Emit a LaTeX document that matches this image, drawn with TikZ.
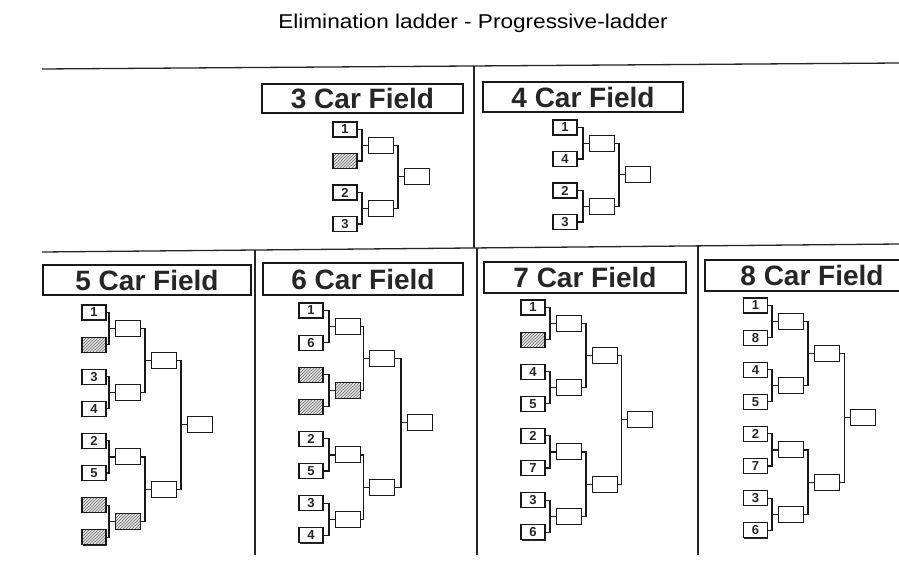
\documentclass[tikz,border=0pt]{standalone}
\usepackage{fontspec}
\setmainfont{Liberation Sans}
\usetikzlibrary{patterns,shadows}
\tikzset{
  seed/.style={draw=black!90, line width=1.1pt, minimum width=24pt, minimum height=15pt,
    inner sep=0pt, fill=white, font=\bfseries\fontsize{13}{13}\selectfont, text=black!85,
    general shadow={fill=black!85, shadow xshift=0.8pt, shadow yshift=-0.8pt}},
  hatch/.style={preaction={fill=black!10}, pattern=north east lines, pattern color=black!60},
  win/.style={draw=black!90, line width=1pt, minimum width=25pt, minimum height=16pt,
    inner sep=0pt, fill=white},
  conn/.style={line width=1.1pt, black!90},
  ptitle/.style={draw=black!90, line width=1.2pt, inner sep=0pt,
    font=\bfseries\fontsize{28}{30}\selectfont, text=black!85},
  rule/.style={line width=1.3pt, black!85}
}
\newcommand\seedn[4]{\node[seed] (#1) at (#2,#3) {#4};}
\newcommand\seedh[3]{\node[seed,hatch] (#1) at (#2,#3) {};}
\newcommand\winb[3]{\node[win] (#1) at (#2,#3) {};}
\newcommand\winh[3]{\node[win,hatch] (#1) at (#2,#3) {};}
\newcommand\joinpair[3]{%
  \draw[conn] (#1.east) -| ([xshift=-5.5pt]#3.west) -- (#3.west);
  \draw[conn] ([xshift=-5.5pt]#3.west) |- (#2.east);}
\begin{document}
\begin{tikzpicture}[x=1pt,y=-1pt]
\useasboundingbox (0,0) rectangle (899,562);
\fill[white] (0,0) rectangle (899,562);

% title
\node[font=\fontsize{20}{24}\selectfont, xscale=1.13, text=black] (title) at (473,23) {Elimination ladder - Progressive-ladder};

% dividers
\coordinate (tl) at (42,69); \coordinate (tr) at (899,63);
\coordinate (ml) at (42,252); \coordinate (mr) at (899,244);
\draw[rule] (tl) -- (tr);
\draw[rule] (ml) -- (mr);
\draw[rule] (474,66) -- (474,248);
\draw[rule] (255,250) -- (255,555);
\draw[rule] (477,248) -- (477,555);
\draw[rule] (698,246) -- (698,555);

% panel titles
\node[ptitle, minimum width=201pt, minimum height=29pt] (t3) at (362.5,98.5) {3 Car Field};
\node[ptitle, minimum width=200pt, minimum height=30pt] (t4) at (583,97) {4 Car Field};
\node[ptitle, minimum width=208pt, minimum height=30pt] (t5) at (147,280) {5 Car Field};
\node[ptitle, minimum width=200pt, minimum height=32pt] (t6) at (363,279) {6 Car Field};
\node[ptitle, minimum width=202pt, minimum height=31pt] (t7) at (585,277.5) {7 Car Field};
\node[ptitle, minimum width=214pt, minimum height=31pt] (t8) at (812,275.5) {8 Car Field};

% ---- 3 car
\seedn{cs1}{345}{129.5}{1}
\seedh{cs2}{345}{161}
\seedn{cs3}{345}{192.5}{2}
\seedn{cs4}{345}{224}{3}
\winb{ca1}{380.5}{145.25}
\winb{ca2}{380.5}{208.25}
\winb{cf}{416.5}{176.75}
\joinpair{cs1}{cs2}{ca1}
\joinpair{cs3}{cs4}{ca2}
\joinpair{ca1}{ca2}{cf}

% ---- 4 car
\seedn{ds1}{565}{127.5}{1}
\seedn{ds2}{565}{159}{4}
\seedn{ds3}{565}{190.5}{2}
\seedn{ds4}{565}{222}{3}
\winb{da1}{601.5}{143.25}
\winb{da2}{601.5}{206.25}
\winb{df}{637.5}{174.75}
\joinpair{ds1}{ds2}{da1}
\joinpair{ds3}{ds4}{da2}
\joinpair{da1}{da2}{df}

% ---- 5 car
\seedn{es1}{94}{312.5}{1}
\seedh{es2}{94}{344.6}
\seedn{es3}{94}{376.7}{3}
\seedn{es4}{94}{408.8}{4}
\seedn{es5}{94}{440.9}{2}
\seedn{es6}{94}{473}{5}
\seedh{es7}{94}{505.1}
\seedh{es8}{94}{537.2}
\winb{ea1}{127.5}{328.55}
\winb{ea2}{127.5}{392.75}
\winb{ea3}{127.5}{456.95}
\winh{ea4}{127.5}{521.15}
\winb{eb1}{163.5}{360.65}
\winb{eb2}{163.5}{489.05}
\winb{ef}{199.5}{424.85}
\joinpair{es1}{es2}{ea1}
\joinpair{es3}{es4}{ea2}
\joinpair{es5}{es6}{ea3}
\joinpair{es7}{es8}{ea4}
\joinpair{ea1}{ea2}{eb1}
\joinpair{ea3}{ea4}{eb2}
\joinpair{eb1}{eb2}{ef}

% ---- 6 car
\seedn{fs1}{311}{310.5}{1}
\seedn{fs2}{311}{342.6}{6}
\seedh{fs3}{311}{374.7}
\seedh{fs4}{311}{406.8}
\seedn{fs5}{311}{438.9}{2}
\seedn{fs6}{311}{471}{5}
\seedn{fs7}{311}{503.1}{3}
\seedn{fs8}{311}{535.2}{4}
\winb{fa1}{347.5}{326.55}
\winh{fa2}{347.5}{390.75}
\winb{fa3}{347.5}{454.95}
\winb{fa4}{347.5}{519.15}
\winb{fb1}{382}{358.65}
\winb{fb2}{382}{487.05}
\winb{ff}{419.5}{422.85}
\joinpair{fs1}{fs2}{fa1}
\joinpair{fs3}{fs4}{fa2}
\joinpair{fs5}{fs6}{fa3}
\joinpair{fs7}{fs8}{fa4}
\joinpair{fa1}{fa2}{fb1}
\joinpair{fa3}{fa4}{fb2}
\joinpair{fb1}{fb2}{ff}

% ---- 7 car
\seedn{gs1}{533}{307.5}{1}
\seedh{gs2}{533}{339.6}
\seedn{gs3}{533}{371.7}{4}
\seedn{gs4}{533}{403.8}{5}
\seedn{gs5}{533}{435.9}{2}
\seedn{gs6}{533}{468}{7}
\seedn{gs7}{533}{500.1}{3}
\seedn{gs8}{533}{532.2}{6}
\winb{ga1}{568.5}{323.55}
\winb{ga2}{568.5}{387.75}
\winb{ga3}{568.5}{451.95}
\winb{ga4}{568.5}{516.15}
\winb{gb1}{604.5}{355.65}
\winb{gb2}{604.5}{484.05}
\winb{gf}{640}{419.85}
\joinpair{gs1}{gs2}{ga1}
\joinpair{gs3}{gs4}{ga2}
\joinpair{gs5}{gs6}{ga3}
\joinpair{gs7}{gs8}{ga4}
\joinpair{ga1}{ga2}{gb1}
\joinpair{ga3}{ga4}{gb2}
\joinpair{gb1}{gb2}{gf}

% ---- 8 car
\seedn{hs1}{755.5}{305.5}{1}
\seedn{hs2}{755.5}{337.6}{8}
\seedn{hs3}{755.5}{369.7}{4}
\seedn{hs4}{755.5}{401.8}{5}
\seedn{hs5}{755.5}{433.9}{2}
\seedn{hs6}{755.5}{466}{7}
\seedn{hs7}{755.5}{498.1}{3}
\seedn{hs8}{755.5}{530.2}{6}
\winb{ha1}{790.5}{321.55}
\winb{ha2}{790.5}{385.75}
\winb{ha3}{790.5}{449.95}
\winb{ha4}{790.5}{514.15}
\winb{hb1}{826.5}{353.65}
\winb{hb2}{826.5}{482.05}
\winb{hf}{863}{417.85}
\joinpair{hs1}{hs2}{ha1}
\joinpair{hs3}{hs4}{ha2}
\joinpair{hs5}{hs6}{ha3}
\joinpair{hs7}{hs8}{ha4}
\joinpair{ha1}{ha2}{hb1}
\joinpair{ha3}{ha4}{hb2}
\joinpair{hb1}{hb2}{hf}
\end{tikzpicture}
\end{document}
